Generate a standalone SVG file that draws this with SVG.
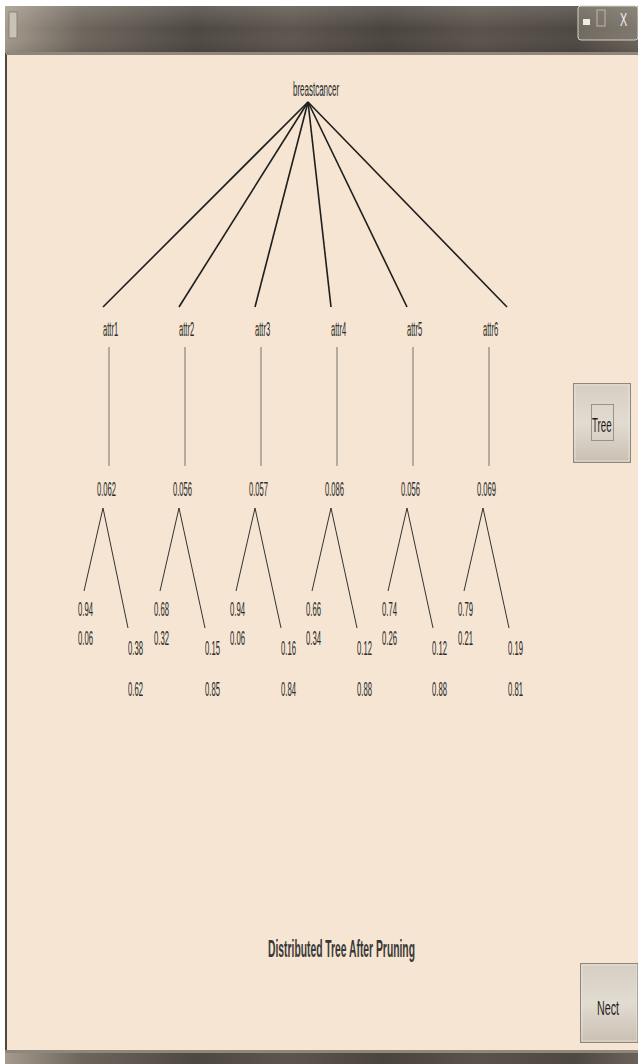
<svg xmlns="http://www.w3.org/2000/svg" width="638" height="1064" viewBox="0 0 638 1064">
<defs>
<linearGradient id="tb" x1="0" y1="0" x2="1" y2="0">
<stop offset="0" stop-color="#a59a8c"/>
<stop offset="0.12" stop-color="#6e665d"/>
<stop offset="0.3" stop-color="#4e4842"/>
<stop offset="0.45" stop-color="#5d554d"/>
<stop offset="0.6" stop-color="#4a443e"/>
<stop offset="0.75" stop-color="#5a524a"/>
<stop offset="0.9" stop-color="#4e4842"/>
<stop offset="1" stop-color="#6a625a"/>
</linearGradient>
<linearGradient id="tbv" x1="0" y1="0" x2="0" y2="1">
<stop offset="0" stop-color="#fff" stop-opacity="0.15"/>
<stop offset="0.5" stop-color="#fff" stop-opacity="0"/>
<stop offset="1" stop-color="#000" stop-opacity="0.1"/>
</linearGradient>
<linearGradient id="btn" x1="0" y1="0" x2="0" y2="1">
<stop offset="0" stop-color="#d6cec3"/>
<stop offset="0.5" stop-color="#e2dbd0"/>
<stop offset="1" stop-color="#c9c0b3"/>
</linearGradient>
<style>
.t{font-family:"Liberation Sans",Arial,sans-serif;font-size:21px;fill:#2a2a2a}
.rl{stroke:#1e1e1e;stroke-width:1.6;fill:none}
.vl{stroke:#8a847c;stroke-width:1.2;fill:none}
.tl{stroke:#333;stroke-width:1;fill:none}
.title{font-family:"Liberation Sans",Arial,sans-serif;font-size:23px;font-weight:bold;fill:#3a3836}
</style>
</defs>
<rect x="0" y="0" width="638" height="1064" fill="#ffffff"/>
<rect x="5" y="6" width="633" height="1058" fill="#4e4842"/>
<rect x="5" y="6" width="633" height="47" fill="url(#tb)"/>
<rect x="5" y="6" width="633" height="47" fill="url(#tbv)"/>
<rect x="6" y="52" width="632" height="3" fill="#8f877c"/>
<rect x="7" y="55" width="631" height="995" fill="#f5e5d2"/>
<rect x="5" y="1050" width="633" height="3" fill="#8f877c"/>
<rect x="5" y="1053" width="633" height="11" fill="url(#tb)"/>
<g id="titlebar-icons">
<rect x="9" y="12" width="8" height="26" fill="#c9c2b6" stroke="#8a8276" stroke-width="1"/>
<rect x="578" y="6" width="60" height="34" rx="3" fill="#9a9286" fill-opacity="0.45" stroke="#d8d0c4" stroke-width="1"/>
<rect x="583" y="19" width="7" height="6" fill="#f0ebe4"/>
<rect x="597" y="10" width="8" height="16" fill="none" stroke="#c0b8ac" stroke-width="1"/>
<text transform="translate(620,26) scale(0.6,1)" style="font-family:'Liberation Sans',Arial,sans-serif;font-size:18px;fill:#f2eee8">X</text>
</g>
<g id="connectors">
<line class="rl" x1="308" y1="102" x2="103" y2="307"/>
<line class="rl" x1="308" y1="102" x2="179" y2="307"/>
<line class="rl" x1="308" y1="102" x2="255" y2="307"/>
<line class="rl" x1="308" y1="102" x2="331" y2="307"/>
<line class="rl" x1="308" y1="102" x2="407" y2="307"/>
<line class="rl" x1="308" y1="102" x2="507" y2="307"/>
<line class="vl" x1="109" y1="347" x2="109" y2="466"/>
<line class="vl" x1="185" y1="347" x2="185" y2="466"/>
<line class="vl" x1="261" y1="347" x2="261" y2="466"/>
<line class="vl" x1="337" y1="347" x2="337" y2="466"/>
<line class="vl" x1="413" y1="347" x2="413" y2="466"/>
<line class="vl" x1="489" y1="347" x2="489" y2="466"/>
<polyline class="tl" points="84,591 103,508 128,628"/>
<polyline class="tl" points="160,591 179,508 205,628"/>
<polyline class="tl" points="236,591 255,508 281,628"/>
<polyline class="tl" points="312,591 331,508 357,628"/>
<polyline class="tl" points="388,591 407,508 433,628"/>
<polyline class="tl" points="464,591 483,508 509,628"/>
</g>
<g id="root"><text class="t" transform="translate(293,96) scale(0.38,1)">breastcancer</text></g>
<g id="attr1"><text class="t" transform="translate(103,336) scale(0.36,1)">attr1</text></g>
<g id="attr2"><text class="t" transform="translate(179,336) scale(0.36,1)">attr2</text></g>
<g id="attr3"><text class="t" transform="translate(255,336) scale(0.36,1)">attr3</text></g>
<g id="attr4"><text class="t" transform="translate(331,336) scale(0.36,1)">attr4</text></g>
<g id="attr5"><text class="t" transform="translate(407,336) scale(0.36,1)">attr5</text></g>
<g id="attr6"><text class="t" transform="translate(483,336) scale(0.36,1)">attr6</text></g>
<g id="v1"><text class="t" transform="translate(97,496) scale(0.362,1)">0.062</text></g>
<g id="v2"><text class="t" transform="translate(173,496) scale(0.362,1)">0.056</text></g>
<g id="v3"><text class="t" transform="translate(249,496) scale(0.362,1)">0.057</text></g>
<g id="v4"><text class="t" transform="translate(325,496) scale(0.362,1)">0.086</text></g>
<g id="v5"><text class="t" transform="translate(401,496) scale(0.362,1)">0.056</text></g>
<g id="v6"><text class="t" transform="translate(477,496) scale(0.362,1)">0.069</text></g>
<g id="leaf1L"><text class="t" transform="translate(78,616) scale(0.367,1)">0.94</text><text class="t" transform="translate(78,645) scale(0.367,1)">0.06</text></g>
<g id="leaf1R"><text class="t" transform="translate(128,655) scale(0.367,1)">0.38</text><text class="t" transform="translate(128,696) scale(0.367,1)">0.62</text></g>
<g id="leaf2L"><text class="t" transform="translate(154,616) scale(0.367,1)">0.68</text><text class="t" transform="translate(154,645) scale(0.367,1)">0.32</text></g>
<g id="leaf2R"><text class="t" transform="translate(205,655) scale(0.367,1)">0.15</text><text class="t" transform="translate(205,696) scale(0.367,1)">0.85</text></g>
<g id="leaf3L"><text class="t" transform="translate(230,616) scale(0.367,1)">0.94</text><text class="t" transform="translate(230,645) scale(0.367,1)">0.06</text></g>
<g id="leaf3R"><text class="t" transform="translate(281,655) scale(0.367,1)">0.16</text><text class="t" transform="translate(281,696) scale(0.367,1)">0.84</text></g>
<g id="leaf4L"><text class="t" transform="translate(306,616) scale(0.367,1)">0.66</text><text class="t" transform="translate(306,645) scale(0.367,1)">0.34</text></g>
<g id="leaf4R"><text class="t" transform="translate(357,655) scale(0.367,1)">0.12</text><text class="t" transform="translate(357,696) scale(0.367,1)">0.88</text></g>
<g id="leaf5L"><text class="t" transform="translate(382,616) scale(0.367,1)">0.74</text><text class="t" transform="translate(382,645) scale(0.367,1)">0.26</text></g>
<g id="leaf5R"><text class="t" transform="translate(432,655) scale(0.367,1)">0.12</text><text class="t" transform="translate(432,696) scale(0.367,1)">0.88</text></g>
<g id="leaf6L"><text class="t" transform="translate(458,616) scale(0.367,1)">0.79</text><text class="t" transform="translate(458,645) scale(0.367,1)">0.21</text></g>
<g id="leaf6R"><text class="t" transform="translate(508,655) scale(0.367,1)">0.19</text><text class="t" transform="translate(508,696) scale(0.367,1)">0.81</text></g>
<g id="caption"><text class="title" transform="translate(268,957) scale(0.449,1)">Distributed Tree After Pruning</text></g>
<g id="tree-button">
<rect x="573.5" y="383.5" width="57" height="79" fill="url(#btn)" stroke="#8e877c" stroke-width="1"/>
<rect x="575" y="385" width="54" height="76" fill="none" stroke="#f2ede6" stroke-width="1" stroke-opacity="0.6"/>
<rect x="591.5" y="404.5" width="22" height="36" fill="none" stroke="#9a9286" stroke-width="1"/>
<text class="t" transform="translate(592,432) scale(0.463,1)" style="fill:#1e1e1e">Tree</text>
</g>
<g id="next-button">
<rect x="580.5" y="963.5" width="57" height="79" fill="url(#btn)" stroke="#8e877c" stroke-width="1"/>
<rect x="582" y="965" width="55" height="76" fill="none" stroke="#f2ede6" stroke-width="1" stroke-opacity="0.6"/>
<text class="t" transform="translate(597,1015) scale(0.51,1)" style="fill:#1e1e1e">Nect</text>
</g>
</svg>
